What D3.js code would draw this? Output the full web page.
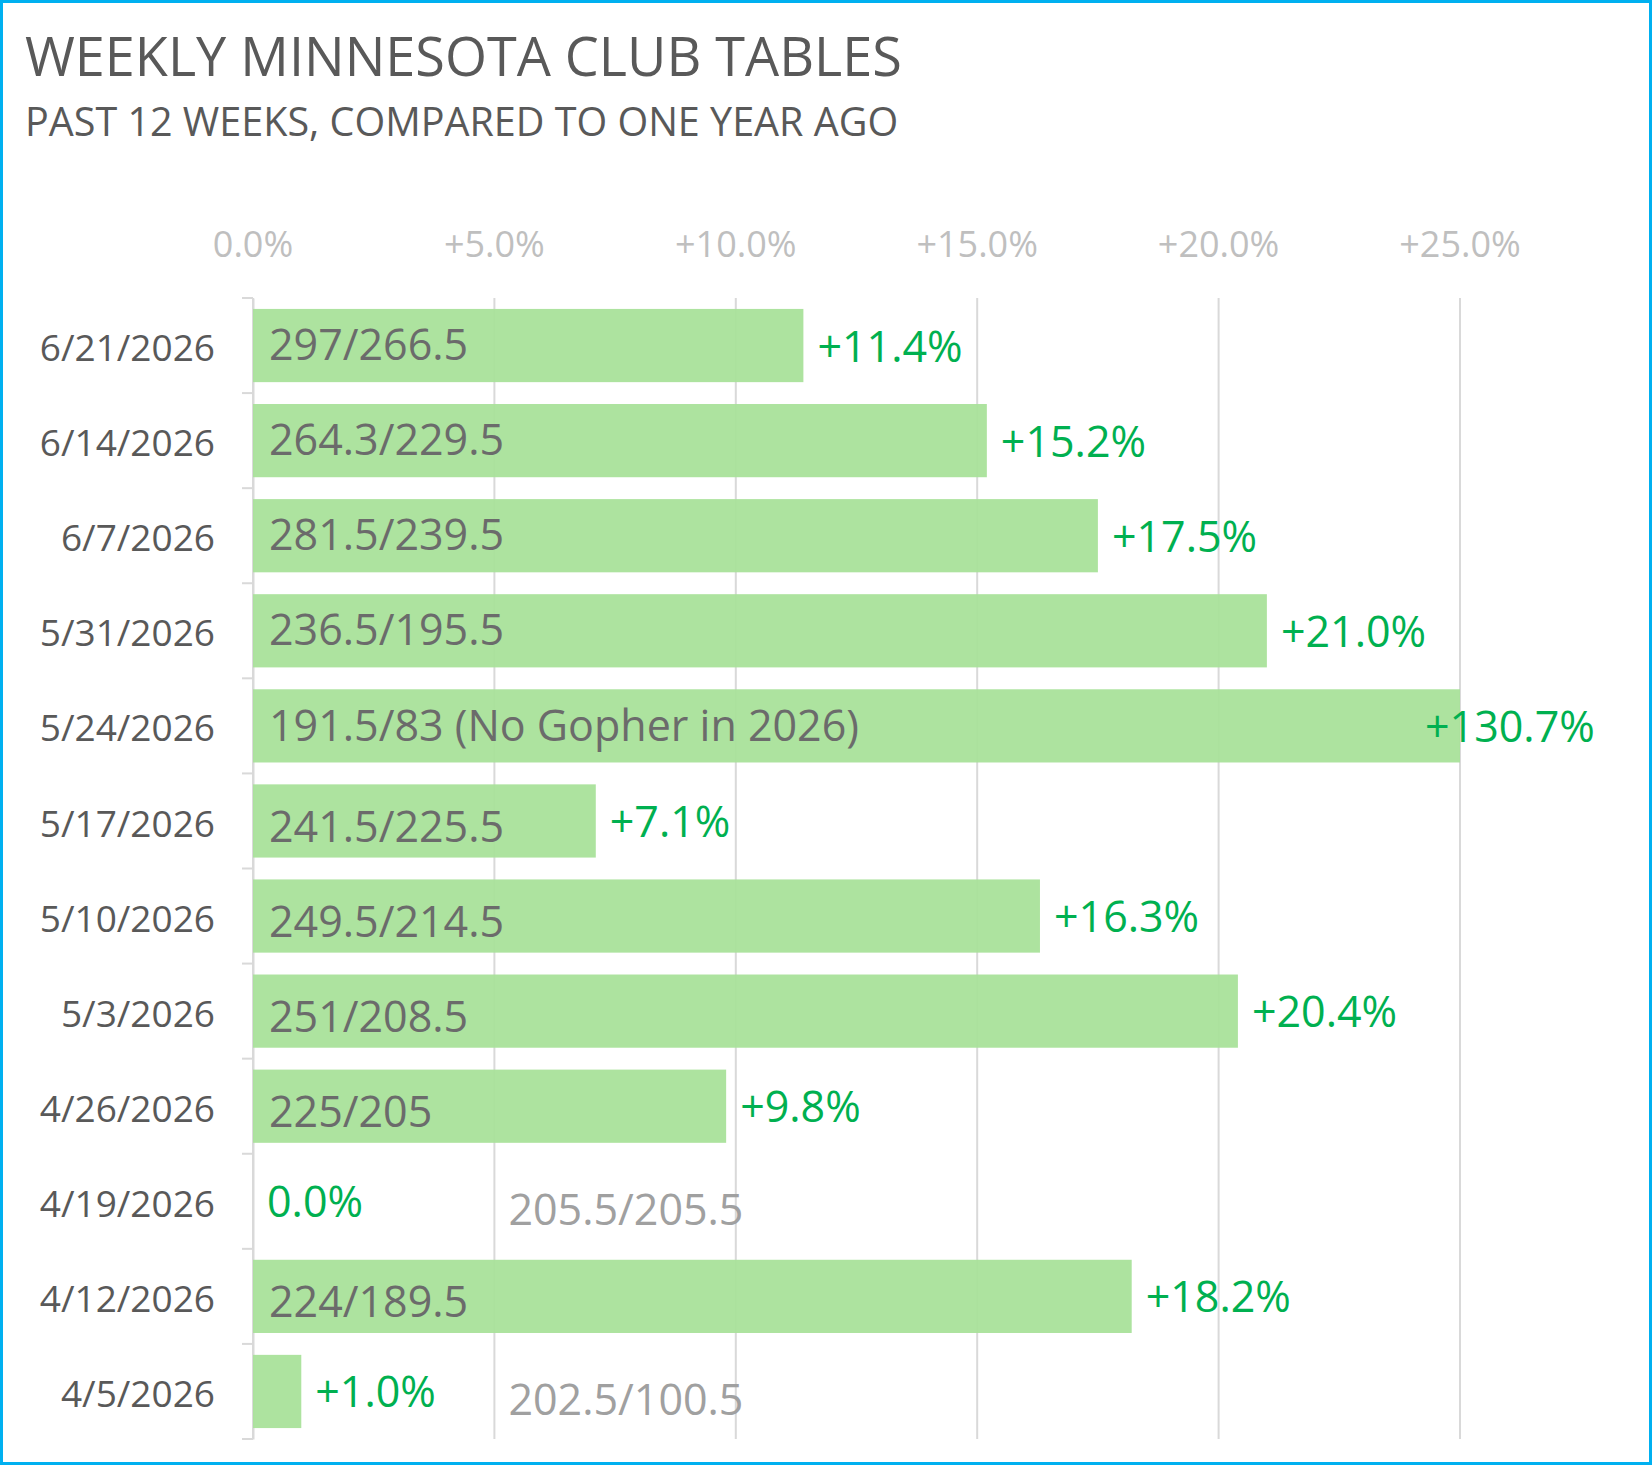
<!DOCTYPE html>
<html><head><meta charset="utf-8">
<script src="https://cdn.jsdelivr.net/npm/d3@7"></script>
<style>body{margin:0;background:#fff}</style>
</head><body><svg id="chart" width="1652" height="1465"></svg>
<script>
// data
var weeks = ["6/21/2026","6/14/2026","6/7/2026","5/31/2026","5/24/2026","5/17/2026","5/10/2026","5/3/2026","4/26/2026","4/19/2026","4/12/2026","4/5/2026"];
var changes = [11.4, 15.2, 17.5, 21.0, 130.7, 7.1, 16.3, 20.4, 9.8, 0.0, 18.2, 1.0];
var ratios = ["297/266.5","264.3/229.5","281.5/239.5","236.5/195.5","191.5/83 (No Gopher in 2026)","241.5/225.5","249.5/214.5","251/208.5","225/205","205.5/205.5","224/189.5","202.5/100.5"];
var xTicks = [0, 5, 10, 15, 20, 25];
var xMax = 25;

var svg = d3.select("#chart");
var font = "Open Sans, sans-serif";

svg.append("rect").attr("x",1.5).attr("y",1.5).attr("width",1649).attr("height",1462)
  .attr("fill","#fff").attr("stroke","#00b0f0").attr("stroke-width",3);

svg.append("text").attr("x",25).attr("y",76).text("WEEKLY MINNESOTA CLUB TABLES")
  .attr("font-family",font).attr("font-size",54).attr("fill","#595959");
svg.append("text").attr("x",25).attr("y",136).text("PAST 12 WEEKS, COMPARED TO ONE YEAR AGO")
  .attr("font-family",font).attr("font-size",39.5).attr("fill","#595959");

var x = d3.scaleLinear().domain([0, xMax]).range([253, 1460]);
var y = d3.scaleBand().domain(weeks).range([298, 1439]).paddingInner(0.23).paddingOuter(0.115);

// gridlines
svg.selectAll(".grid").data(xTicks).enter().append("line")
  .attr("x1",function(d){return x(d);}).attr("x2",function(d){return x(d);})
  .attr("y1",298).attr("y2",1439).attr("stroke","#d9d9d9").attr("stroke-width",2);

// top tick labels
svg.selectAll(".xt").data(xTicks).enter().append("text")
  .attr("x",function(d){return x(d);}).attr("y",257).attr("text-anchor","middle")
  .attr("font-family",font).attr("font-size",36).attr("fill","#bfbfbf")
  .text(function(d){return (d===0?"":"+")+d.toFixed(1)+"%";});

// category axis
var yAxis = svg.append("g").attr("transform","translate(253,0)")
  .call(d3.axisLeft(y).tickSize(0).tickPadding(38));
yAxis.select(".domain").attr("stroke","#d9d9d9").attr("stroke-width",2);
yAxis.selectAll("text").attr("font-family",font).attr("font-size",37).attr("fill","#595959")
  .attr("dy","0.42em");
var step = y.step();
svg.selectAll(".ytick").data(d3.range(weeks.length+1)).enter().append("line")
  .attr("x1",242).attr("x2",253)
  .attr("y1",function(i){return 298+i*step;}).attr("y2",function(i){return 298+i*step;})
  .attr("stroke","#d9d9d9").attr("stroke-width",2);

var rows = svg.selectAll(".row").data(weeks).enter().append("g");

rows.append("rect")
  .attr("x",x(0)).attr("y",function(d){return y(d);})
  .attr("width",function(d,i){return x(Math.min(changes[i],xMax))-x(0);})
  .attr("height",y.bandwidth()).attr("fill","#a9e19a").attr("opacity",0.95);

// ratio labels
rows.append("text")
  .attr("x",function(d,i){return changes[i] < 5 ? x(5)+14 : x(0)+16;})
  .attr("y",function(d,i){return y(d)+y.bandwidth()*(changes[i] < 5 ? 0.82 : 0.7)+(changes[i] < 5 ? 0 : (i>4 ? 6 : 0));})
  .attr("font-family",font).attr("font-size",43).attr("fill",function(d,i){return changes[i] < 5 ? "#a0a0a0" : "#6b6b6b";})
  .text(function(d,i){return ratios[i];});

// change labels
rows.append("text")
  .attr("x",function(d,i){
    if (changes[i] > xMax) return x(xMax)-35;
    return x(changes[i]) + 14;
  })
  .attr("y",function(d){return y(d)+y.bandwidth()/2+16;})
  .attr("font-family",font).attr("font-size",43).attr("fill","#00b050")
  .text(function(d,i){return (changes[i]>0?"+":"")+changes[i].toFixed(1)+"%";});
</script></body></html>
